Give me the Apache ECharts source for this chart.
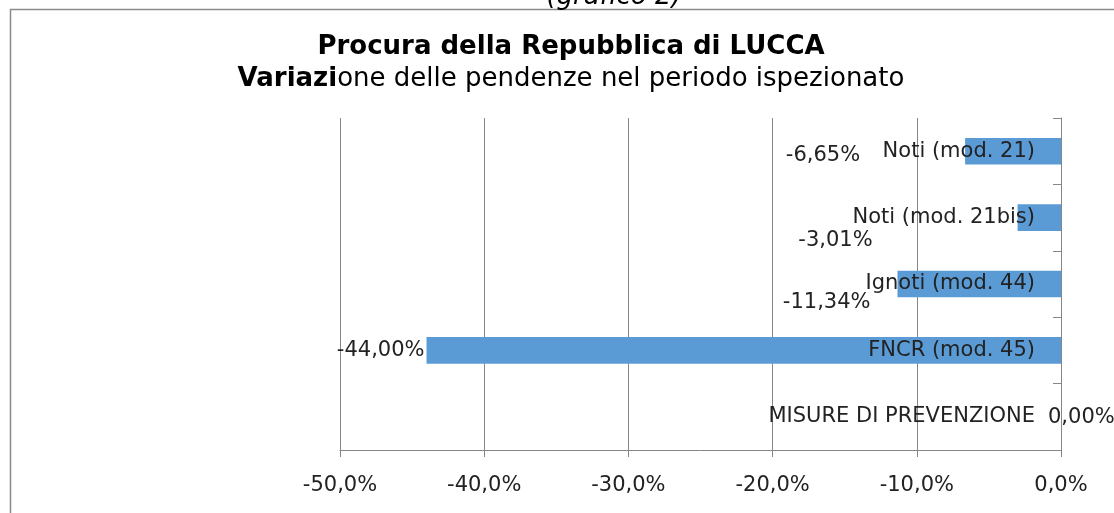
<!DOCTYPE html>
<html>
<head>
<meta charset="utf-8">
<script src="https://cdn.jsdelivr.net/npm/echarts@6/dist/echarts.min.js"></script>
<style>
html,body{margin:0;padding:0;background:#fff;}
#chart{width:1114px;height:513px;}
</style>
</head>
<body>
<div id="chart"></div>
<script>
// Data
const categories = ['Noti (mod. 21)', 'Noti (mod. 21bis)', 'Ignoti (mod. 44)', 'FNCR (mod. 45)', 'MISURE DI PREVENZIONE'];
const values = [-6.65, -3.01, -11.34, -44.00, 0.00];
const xTicks = [-50, -40, -30, -20, -10, 0];
const captionText = '(grafico 2)';
const titleText = 'Procura della Repubblica di LUCCA';
const subtitleBold = 'Variazi';
const subtitleRest = 'one delle pendenze nel periodo ispezionato';

// label placement (style only)
const labelPos = ['left', 'left', 'left', 'left', 'right'];
const labelOffsets = [[-100, 4], [-140, 23], [-22, 19], [3, 0], [-18, 1]];

const FONT = 'DejaVu Sans';
const chart = echarts.init(document.getElementById('chart'), null, {renderer: 'canvas'});

const fmtPct = (v, d) => v.toFixed(d).replace('.', ',') + '%';

chart.setOption({
  animation: false,
  backgroundColor: '#ffffff',
  title: [
    {
      text: titleText,
      left: 571, top: 34, textAlign: 'center', padding: 0,
      textStyle: {fontFamily: FONT, fontSize: 26, fontWeight: 'bold', color: '#000'}
    },
    {
      text: '{b|' + subtitleBold + '}{n|' + subtitleRest + '}',
      left: 571, top: 66, textAlign: 'center', padding: 0,
      textStyle: {
        fontFamily: FONT, fontSize: 26, color: '#000',
        rich: {
          b: {fontFamily: FONT, fontSize: 26, fontWeight: 'bold', color: '#000'},
          n: {fontFamily: FONT, fontSize: 26, fontWeight: 'normal', color: '#000'}
        }
      }
    }
  ],
  graphic: [
    {
      type: 'rect', silent: true,
      shape: {x: 10.5, y: 9.5, width: 1200, height: 600},
      style: {fill: 'none', stroke: '#8a8a8a', lineWidth: 1.5}
    },
    {
      type: 'text', silent: true,
      style: {
        text: captionText, x: 614, y: 10, align: 'center', verticalAlign: 'bottom',
        font: 'italic 26px "DejaVu Sans"', fill: '#000'
      }
    }
  ],
  grid: {left: 340, right: 53, top: 118, bottom: 63, containLabel: false},
  xAxis: {
    type: 'value',
    min: xTicks[0], max: xTicks[xTicks.length - 1], interval: 10,
    axisLine: {show: true, lineStyle: {color: '#868686', width: 1}},
    axisTick: {show: true, length: 7, lineStyle: {color: '#868686'}},
    splitLine: {show: true, lineStyle: {color: '#868686', width: 1}},
    axisLabel: {
      margin: 25, fontFamily: FONT, fontSize: 21, color: '#222',
      formatter: v => fmtPct(v, 1)
    }
  },
  yAxis: {
    type: 'category',
    data: categories,
    inverse: true,
    position: 'right',
    z: 5,
    axisLine: {show: true, onZero: false, lineStyle: {color: '#868686', width: 1}},
    axisTick: {show: true, inside: true, length: 8, lineStyle: {color: '#868686'}},
    axisLabel: {
      inside: true, margin: 26, fontFamily: FONT, fontSize: 21, color: '#222'
    },
    splitLine: {show: false}
  },
  series: [{
    type: 'bar',
    barWidth: '40%',
    itemStyle: {color: '#5b9bd5'},
    z: 2,
    data: values.map((v, i) => ({
      value: v,
      label: {position: labelPos[i], offset: labelOffsets[i]}
    })),
    label: {
      show: true,
      distance: 5,
      fontFamily: FONT, fontSize: 21, color: '#222',
      formatter: p => fmtPct(p.value, 2)
    }
  }]
});
</script>
</body>
</html>
